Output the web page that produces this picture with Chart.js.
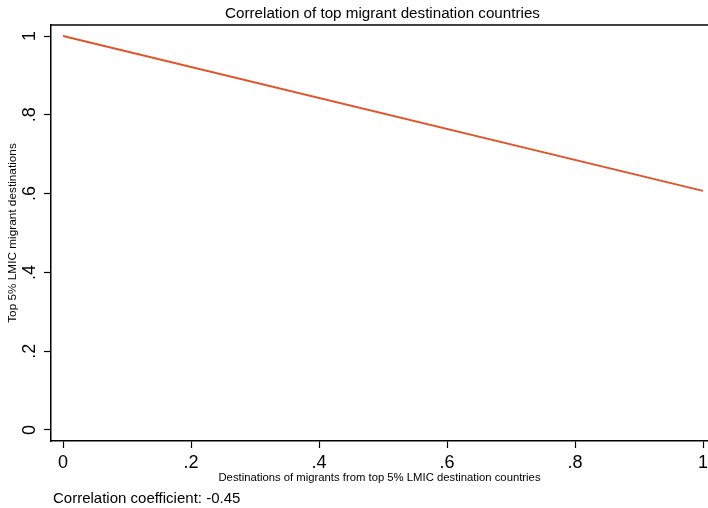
<!DOCTYPE html>
<html>
<head>
<meta charset="utf-8">
<style>
  html, body { margin: 0; padding: 0; background: #fff; }
  #wrap { width: 708px; height: 508px; }
</style>
<script src="https://cdn.jsdelivr.net/npm/chart.js@4.4.0/dist/chart.umd.min.js"></script>
</head>
<body>
<div id="wrap"><canvas id="corrChart" width="708" height="508"></canvas></div>
<script>
// values (fitted line ends)
var xValues = [0, 1];
var yValues = [1, 0.607];
var xTickLabels = ['0', '.2', '.4', '.6', '.8', '1'];
var yTickLabels = ['0', '.2', '.4', '.6', '.8', '1'];
var chartTitle = 'Correlation of top migrant destination countries';
var footnote = 'Correlation coefficient: -0.45';

var font = "'Liberation Sans', Arial, Helvetica, sans-serif";

var points = xValues.map(function (x, i) { return { x: x, y: yValues[i] }; });

// title, top frame line and footnote
var extras = {
    id: 'extras',
    afterDraw: function (chart) {
        var c = chart.ctx, a = chart.chartArea;
        c.save();
        c.strokeStyle = '#000';
        c.lineWidth = 1.5;
        c.beginPath();
        c.moveTo(a.left, a.top);
        c.lineTo(a.right, a.top);
        c.stroke();
        c.fillStyle = '#000';
        c.textBaseline = 'middle';
        c.textAlign = 'center';
        c.font = '15.2px ' + font;
        c.fillText(chartTitle, 382.5, 14);
        c.textAlign = 'left';
        c.font = '15px ' + font;
        c.fillText(footnote, 53, 499);
        c.restore();
    }
};

var ctx = document.getElementById('corrChart').getContext('2d');
var chart = new Chart(ctx, {
    type: 'scatter',
    data: {
        datasets: [{
            data: points,
            showLine: true,
            borderColor: '#e0542a',
            borderWidth: 2,
            pointRadius: 0,
            fill: false
        }]
    },
    options: {
        responsive: false,
        animation: false,
        layout: { padding: { left: 0, right: 0, top: 25, bottom: 20 } },
        plugins: {
            legend: { display: false },
            tooltip: { enabled: false },
            title: { display: false }
        },
        scales: {
            x: {
                type: 'linear',
                min: -0.01875,
                max: 1.0078,
                afterFit: function (s) {
                    s.height = 47;
                    s.paddingLeft = 0;
                    s.paddingRight = 0;
                },
                border: { display: true, color: '#000', width: 1.5 },
                grid: { drawOnChartArea: false, drawTicks: true, tickLength: 7, tickColor: '#000', tickWidth: 1.2 },
                ticks: {
                    stepSize: 0.2,
                    includeBounds: false,
                    autoSkip: false,
                    maxRotation: 0,
                    padding: 4,
                    color: '#000',
                    font: { family: font, size: 18 },
                    callback: function (v, i) { return xTickLabels[i]; }
                },
                title: {
                    display: true,
                    text: 'Destinations of migrants from top 5% LMIC destination countries',
                    color: '#000',
                    font: { family: font, size: 11.3 },
                    padding: { top: 0, bottom: 3 }
                }
            },
            y: {
                type: 'linear',
                min: -0.028,
                max: 1.028,
                afterFit: function (s) {
                    s.width = 51;
                    s.paddingTop = 0;
                    s.paddingBottom = 0;
                },
                border: { display: true, color: '#000', width: 1.5 },
                grid: { drawOnChartArea: false, drawTicks: true, tickLength: 7, tickColor: '#000', tickWidth: 1.2 },
                ticks: {
                    stepSize: 0.2,
                    includeBounds: false,
                    autoSkip: false,
                    minRotation: 90,
                    maxRotation: 90,
                    crossAlign: 'center',
                    padding: 6,
                    color: '#000',
                    font: { family: font, size: 18 },
                    callback: function (v, i) { return yTickLabels[i]; }
                },
                title: {
                    display: true,
                    text: 'Top 5% LMIC migrant destinations',
                    color: '#000',
                    font: { family: font, size: 11.8 },
                    padding: { top: 6, bottom: 0 }
                }
            }
        }
    },
    plugins: [extras]
});
</script>
</body>
</html>
